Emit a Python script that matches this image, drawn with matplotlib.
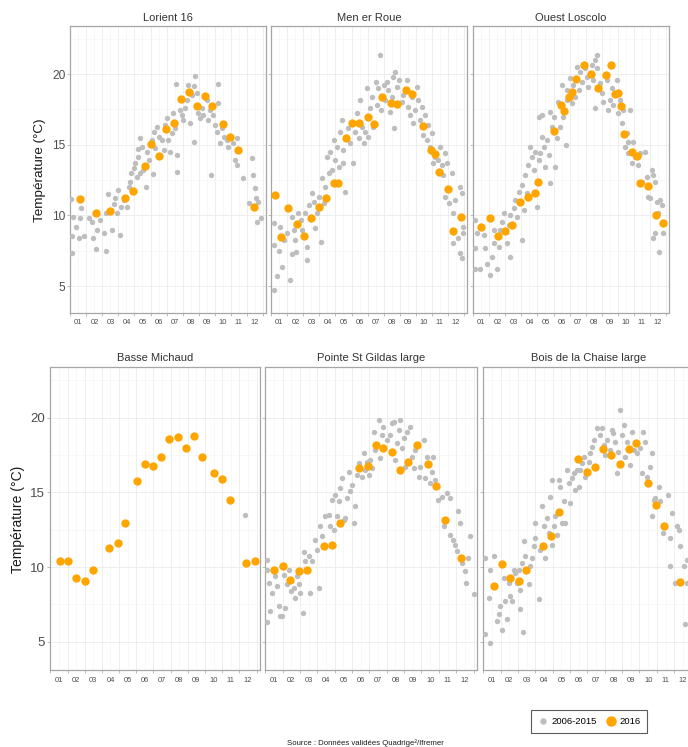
import numpy as np
import matplotlib.pyplot as plt
from matplotlib.lines import Line2D

plt.rcParams['font.family'] = ['Liberation Sans', 'DejaVu Sans']

# Etiquettes des mois
mois_labels = ['01', '02', '03', '04', '05', '06', '07', '08', '09', '10', '11', '12']

# --- Lorient 16 ---
lorient_hist_mois = [0.06, 0.17, 0.1, 0.1, 0.66, 0.62, 0.37, 0.52, 0.83, 1.14, 1.35, 1.41, 1.62, 1.66, 1.87,
                     2.07, 2.2, 2.32, 2.24, 2.59, 2.74, 3.07, 2.9, 3.15, 2.8, 3.0, 3.32, 3.53, 3.63, 3.78,
                     3.73, 3.94, 4.05, 4.15, 4.36, 4.25, 4.19, 4.46, 4.32, 4.71, 4.56, 4.88, 4.77, 5.08, 5.19,
                     5.29, 5.15, 5.39, 5.5, 5.71, 5.81, 5.91, 6.02, 6.12, 6.22, 6.33, 6.43, 6.54, 6.64, 6.68,
                     6.58, 6.85, 6.95, 7.05, 7.16, 7.26, 7.32, 7.47, 7.57, 7.72, 7.78, 7.68, 7.88, 7.99, 8.09,
                     8.2, 8.3, 8.51, 8.61, 8.71, 8.76, 8.92, 9.02, 9.13, 9.23, 9.23, 9.34, 9.44, 9.59, 9.75,
                     9.85, 10.17, 10.37, 10.27, 10.41, 10.79, 11.31, 11.41, 11.51, 11.58, 11.62, 11.72, 11.89, 11.16]
lorient_hist_temp = [11.16, 9.86, 8.56, 7.31, 10.5, 9.79, 9.2, 8.44, 8.54, 9.79, 9.55, 8.37, 7.66, 8.96, 9.67,
                     8.73, 7.5, 11.5, 10.14, 8.96, 10.8, 8.61, 10.14, 10.57, 11.2, 11.8, 11.08, 10.61, 12.03, 12.97,
                     12.38, 13.33, 13.68, 12.74, 12.97, 14.15, 14.69, 14.86, 15.45, 12.03, 13.21, 13.92, 14.5, 15.33, 15.92,
                     14.74, 12.92, 16.27, 15.57, 15.33, 14.62, 16.39, 16.86, 15.33, 14.5, 15.8, 17.22, 16.16, 14.27, 13.09,
                     19.29, 17.45, 17.1, 16.75, 17.57, 18.16, 19.22, 16.51, 18.51, 19.15, 19.88, 15.21, 18.63, 17.22, 16.86,
                     17.57, 17.1, 18.16, 16.75, 17.45, 12.85, 17.1, 16.39, 15.92, 19.27, 17.92, 15.09, 16.16, 15.57, 15.33,
                     14.86, 15.09, 15.45, 13.92, 13.56, 12.62, 14.03, 12.85, 11.91, 11.2, 9.55, 10.97, 9.79, 10.85]
lorient_2016_mois = [0.58, 1.6, 2.49, 3.42, 3.9, 4.63, 5.04, 5.54, 5.95, 6.47, 6.91, 7.43, 7.88, 8.38, 8.82,
                     9.5, 9.96, 10.44, 11.45]
lorient_2016_temp = [11.16, 10.19, 10.28, 11.25, 11.75, 13.49, 15.02, 14.22, 16.11, 16.56, 18.25, 18.7, 17.76,
                     18.47, 17.76, 16.46, 15.52, 14.6, 10.57]

# --- Men er Roue ---
menerroue_hist_mois = [0.19, 0.15, 0.19, 0.35, 0.46, 0.66, 0.77, 0.56, 1.14, 0.98, 1.29, 1.39, 1.29, 1.56, 1.49,
                       1.66, 1.83, 1.93, 2.22, 2.22, 2.12, 2.32, 2.63, 2.74, 2.53, 2.84, 3.09, 2.95, 3.15, 3.26,
                       3.36, 3.57, 3.46, 3.67, 3.78, 3.88, 3.98, 4.09, 4.19, 4.29, 4.4, 4.5, 4.61, 4.5, 4.75,
                       4.92, 5.12, 5.23, 5.33, 5.44, 5.54, 5.64, 5.75, 5.85, 5.95, 6.0, 6.16, 6.27, 6.37, 6.54,
                       6.58, 6.68, 6.78, 6.83, 7.0, 7.1, 7.2, 7.3, 7.41, 7.51, 7.61, 7.66, 7.68, 7.82, 7.93,
                       8.13, 8.2, 8.44, 8.55, 8.65, 8.76, 8.86, 8.96, 9.07, 9.17, 9.27, 9.38, 9.48, 9.59, 9.69,
                       9.79, 9.9, 10.0, 10.1, 10.21, 10.41, 10.52, 10.62, 10.83, 10.93, 10.73, 11.24, 10.83, 11.1,
                       11.35, 11.31, 11.45, 11.66, 11.76, 11.76, 11.87, 11.87, 11.97, 11.93]
menerroue_hist_temp = [9.48, 7.9, 4.72, 5.7, 7.5, 6.37, 8.25, 9.2, 5.42, 8.73, 7.3, 8.96, 9.9, 7.43, 8.25,
                       10.14, 9.67, 8.96, 7.78, 6.84, 10.14, 10.73, 10.97, 9.08, 11.56, 10.14, 8.14, 11.32, 12.62, 10.85,
                       12.03, 12.97, 14.15, 14.5, 13.2, 15.33, 13.92, 14.86, 13.44, 15.92, 16.75, 14.62, 11.67, 13.68, 16.16,
                       15.1, 13.68, 15.92, 17.22, 15.45, 18.16, 16.27, 15.1, 15.92, 18.99, 15.57, 17.57, 18.4, 16.27, 19.46,
                       17.81, 18.99, 21.34, 17.45, 19.22, 18.16, 19.46, 18.87, 17.33, 18.4, 19.81, 16.16, 20.17, 19.1, 19.58,
                       18.04, 18.51, 19.58, 17.69, 17.1, 18.4, 16.51, 17.45, 19.1, 18.16, 16.75, 17.69, 15.68, 17.1, 15.33,
                       16.39, 14.86, 15.8, 13.68, 14.15, 13.92, 14.86, 13.56, 14.39, 13.68, 12.85, 12.97, 11.32, 10.85,
                       10.14, 8.02, 11.08, 8.37, 12.03, 7.31, 6.96, 11.56, 8.73, 9.2]
menerroue_2016_mois = [0.21, 0.6, 1.04, 1.6, 2.01, 2.47, 2.97, 3.42, 3.92, 4.13, 4.63, 5.02, 5.48, 6.02, 6.43,
                       6.91, 7.45, 7.82, 8.38, 8.8, 9.48, 9.94, 10.21, 10.46, 11.0, 11.35, 11.83]
menerroue_2016_temp = [11.44, 8.49, 10.5, 9.39, 8.54, 9.83, 10.57, 11.2, 12.31, 12.31, 15.45, 16.56, 16.56, 16.98,
                       16.46, 18.4, 17.92, 17.88, 18.87, 18.56, 16.32, 14.62, 14.34, 13.09, 11.84, 8.92, 9.9]

# --- Ouest Loscolo ---
loscolo_hist_mois = [0.12, 0.12, 0.12, 0.39, 0.23, 0.64, 0.75, 0.85, 1.06, 1.16, 1.27, 1.27, 1.47, 1.58, 1.68,
                     1.78, 1.89, 2.1, 2.2, 2.3, 2.3, 2.51, 2.61, 2.72, 2.82, 3.02, 3.02, 3.13, 3.24, 3.34,
                     3.44, 3.55, 3.65, 3.76, 3.86, 3.96, 4.07, 4.17, 4.27, 4.38, 4.48, 4.58, 4.69, 4.79, 4.79,
                     4.07, 4.27, 4.9, 5.0, 5.1, 5.21, 5.31, 5.41, 5.52, 5.62, 5.79, 5.83, 5.87, 6.04, 6.14,
                     6.24, 6.35, 6.49, 6.56, 6.66, 6.76, 6.97, 7.07, 7.18, 7.28, 7.39, 7.49, 7.59, 7.7, 7.74,
                     7.9, 7.59, 8.01, 8.11, 8.32, 8.42, 8.53, 8.63, 8.73, 8.94, 9.05, 9.15, 9.25, 9.36, 9.46,
                     9.56, 9.67, 9.77, 9.67, 9.88, 9.98, 10.08, 10.29, 10.39, 10.5, 10.71, 10.81, 10.91, 11.02, 11.12,
                     11.22, 11.33, 11.43, 11.54, 11.64, 11.74, 11.22, 11.33, 11.6, 11.85]
loscolo_hist_temp = [9.67, 7.67, 6.18, 6.18, 8.73, 8.61, 7.67, 6.6, 5.78, 7.08, 8.02, 8.96, 6.18, 7.78, 8.96,
                     9.55, 10.14, 8.02, 9.32, 7.08, 10.02, 10.5, 11.08, 9.9, 11.67, 8.25, 12.15, 10.38, 12.85, 11.56,
                     13.56, 14.86, 14.15, 13.2, 14.5, 10.61, 13.92, 14.39, 15.57, 14.86, 13.44, 15.33, 14.27, 12.26, 17.33,
                     16.98, 17.1, 16.27, 16.98, 13.44, 15.45, 18.04, 16.27, 19.22, 16.98, 14.98, 18.16, 18.87, 19.69, 17.92,
                     19.22, 18.4, 20.52, 18.87, 20.17, 19.46, 20.4, 19.81, 19.1, 20.05, 20.64, 19.58, 20.99, 21.34, 20.4,
                     19.34, 17.57, 18.63, 18.04, 19.58, 17.45, 18.16, 18.99, 17.81, 19.58, 17.22, 18.16, 16.51, 17.45, 14.86,
                     15.8, 15.21, 17.45, 14.39, 13.68, 15.21, 14.15, 13.56, 14.39, 12.38, 14.5, 12.74, 11.32, 11.2, 13.2,
                     12.85, 12.38, 10.97, 10.14, 11.08, 10.73, 8.37, 8.73, 7.43, 8.73]
loscolo_2016_mois = [0.48, 1.06, 1.51, 1.95, 2.41, 2.93, 3.4, 3.86, 4.02, 5.0, 5.48, 5.68, 5.98, 6.14, 6.41,
                     6.87, 7.34, 7.8, 8.26, 8.57, 8.84, 9.0, 9.21, 9.42, 9.88, 10.19, 10.39, 10.91, 11.37, 11.85]
loscolo_2016_temp = [9.2, 9.79, 8.56, 8.89, 9.32, 10.92, 11.27, 11.56, 12.38, 15.97, 17.81, 17.38, 18.4, 18.75,
                     19.62, 20.64, 20.0, 19.03, 19.93, 20.64, 18.58, 18.68, 17.74, 15.75, 14.5, 14.2, 12.31, 12.08,
                     10.02, 9.48]

# --- Basse Michaud ---
michaud_hist_mois = [11.3]
michaud_hist_temp = [13.48]
michaud_2016_mois = [0.54, 1.03, 1.51, 2.0, 2.46, 3.39, 3.91, 4.36, 5.04, 5.48, 5.97, 6.43, 6.92, 7.4, 7.87,
                     8.35, 8.82, 9.5, 9.96, 10.43, 11.4, 11.88]
michaud_2016_temp = [10.39, 10.39, 9.27, 9.05, 9.78, 11.28, 11.59, 12.97, 15.77, 16.88, 16.75, 17.4, 18.55, 18.73,
                     17.97, 18.75, 17.37, 16.28, 15.88, 14.48, 10.3, 10.41]

# --- Pointe St Gildas large ---
gildas_hist_mois = [0.1, 0.1, 0.19, 0.1, 0.29, 0.38, 0.58, 0.67, 0.77, 0.86, 0.96, 1.06, 1.15, 1.25, 1.34,
                    1.48, 1.63, 1.73, 1.82, 1.92, 2.02, 2.17, 2.21, 2.3, 2.5, 2.59, 2.69, 2.88, 2.98, 3.07,
                    3.17, 3.26, 3.45, 3.65, 3.74, 3.84, 3.93, 4.03, 4.13, 4.22, 4.32, 4.41, 4.51, 4.61, 4.7,
                    4.8, 4.89, 4.99, 5.09, 5.18, 5.28, 5.37, 5.57, 5.66, 5.76, 5.85, 5.95, 6.05, 6.14, 6.24,
                    6.33, 6.53, 6.62, 6.72, 6.81, 7.0, 7.2, 7.29, 7.39, 7.49, 7.58, 7.68, 7.77, 7.87, 7.97,
                    8.06, 8.16, 8.35, 8.45, 8.54, 8.64, 8.83, 8.93, 9.12, 9.21, 9.31, 9.5, 9.6, 9.69, 9.79,
                    9.98, 10.17, 10.46, 10.65, 10.27, 10.65, 10.84, 10.94, 11.04, 11.13, 11.23, 11.32, 11.52, 11.57,
                    11.71, 11.8, 12.0]
gildas_hist_temp = [10.5, 9.83, 8.94, 6.33, 7.05, 8.23, 9.38, 8.72, 7.38, 6.71, 6.71, 9.49, 7.27, 8.83, 9.83,
                    8.38, 8.6, 7.94, 9.38, 8.83, 8.27, 6.94, 10.99, 10.38, 10.72, 8.23, 10.38, 11.83, 11.16, 8.6,
                    12.72, 12.05, 13.39, 13.5, 12.72, 14.5, 12.5, 14.84, 13.39, 14.39, 15.28, 15.95, 13.17, 13.28, 14.61,
                    16.39, 15.06, 15.5, 12.94, 14.06, 16.17, 16.95, 16.06, 17.62, 16.51, 17.06, 16.17, 17.17, 16.62, 19.07,
                    17.84, 19.84, 17.28, 18.84, 19.4, 18.51, 18.84, 19.62, 19.73, 17.17, 18.28, 19.18, 19.84, 17.95, 18.62,
                    16.73, 19.07, 19.4, 17.4, 16.62, 17.84, 16.06, 16.73, 18.51, 15.95, 17.4, 15.62, 16.39, 17.35, 15.84,
                    14.5, 14.72, 14.95, 14.61, 12.72, 12.17, 11.83, 11.5, 11.05, 13.72, 12.94, 10.27, 9.72, 8.94,
                    10.61, 12.05, 8.16]
gildas_2016_mois = [0.52, 1.0, 1.44, 1.96, 2.4, 3.36, 3.84, 4.28, 5.41, 5.89, 6.39, 6.81, 7.29, 7.74, 8.25,
                    8.73, 9.4, 9.83, 10.33, 11.29]
gildas_2016_temp = [9.83, 10.05, 9.12, 9.72, 9.83, 11.43, 11.5, 12.94, 16.62, 16.8, 18.17, 17.95, 17.69, 16.5,
                    17.06, 18.17, 16.91, 15.44, 13.12, 10.61]

# --- Bois de la Chaise large ---
chaise_hist_mois = [0.12, 0.12, 0.36, 0.31, 0.4, 0.6, 0.79, 0.88, 0.98, 1.07, 1.17, 1.27, 1.36, 1.46, 1.56,
                    1.65, 1.75, 1.84, 1.94, 2.03, 2.13, 2.13, 2.23, 2.28, 2.32, 2.42, 2.61, 2.71, 2.8, 2.9,
                    3.0, 3.0, 3.19, 3.28, 3.38, 3.48, 3.57, 3.67, 3.76, 3.86, 3.95, 4.05, 4.15, 4.24, 3.95,
                    4.34, 4.43, 4.53, 4.63, 4.72, 4.82, 4.92, 5.01, 5.11, 5.2, 5.3, 5.4, 5.49, 5.59, 5.68,
                    5.78, 5.87, 6.07, 6.16, 6.26, 6.35, 6.55, 6.74, 6.83, 6.93, 7.03, 7.12, 7.31, 7.41, 7.5,
                    7.6, 7.7, 7.79, 7.85, 7.98, 8.08, 8.18, 8.27, 8.46, 8.56, 8.66, 8.85, 9.04, 9.23, 9.14,
                    9.33, 9.42, 9.62, 9.71, 9.71, 9.81, 9.9, 10.1, 10.19, 10.38, 10.67, 10.77, 10.86, 10.77, 11.06,
                    11.15, 11.25, 11.34, 11.54, 11.63, 11.73, 11.73, 11.9, 11.95]
chaise_hist_temp = [10.61, 5.49, 4.89, 7.94, 9.83, 10.72, 6.38, 6.82, 7.38, 5.78, 9.27, 7.71, 6.49, 8.94, 8.05,
                    7.71, 9.83, 9.61, 8.94, 9.83, 8.49, 7.16, 10.27, 5.64, 11.72, 10.72, 8.83, 10.05, 10.61, 11.39,
                    11.94, 12.94, 7.83, 11.16, 14.06, 12.72, 10.61, 13.28, 12.28, 14.72, 11.5, 12.72, 13.39, 12.17, 15.84,
                    15.84, 15.39, 12.94, 14.39, 12.94, 16.5, 15.62, 14.28, 15.95, 16.28, 15.17, 16.5, 15.39, 16.5, 16.95,
                    17.4, 16.06, 17.06, 17.62, 18.06, 18.51, 19.29, 18.84, 19.29, 18.17, 17.51, 18.51, 17.84, 19.18, 18.95,
                    18.4, 16.28, 17.73, 20.51, 18.84, 19.51, 17.4, 18.4, 16.84, 19.07, 17.84, 17.62, 17.95, 19.07, 16.28,
                    18.4, 16.06, 16.73, 17.62, 13.39, 14.5, 14.61, 15.39, 14.39, 12.28, 14.83, 11.94, 13.61, 10.05, 8.94,
                    12.72, 12.5, 11.39, 10.05, 6.16, 10.5, 8.94, 10.6, 9.4]
chaise_2016_mois = [0.6, 1.07, 1.52, 2.03, 2.48, 3.44, 3.92, 4.34, 5.45, 5.97, 6.45, 6.89, 7.37, 7.85, 8.37,
                    8.81, 9.48, 9.94, 10.42, 11.34]
chaise_2016_temp = [8.76, 10.23, 9.27, 9.09, 9.83, 11.39, 12.05, 13.68, 17.22, 16.39, 16.73, 17.91, 17.51, 16.88,
                    17.91, 18.33, 15.62, 14.17, 12.77, 9.0]

W, H = 688, 747
GRIS = '#bebebe'
ORANGE = '#ffa500'


def tracer_panneau(fig, rect, titre, hm, ht, om, ot, avec_y, bas):
    """Dessine un panneau (station) a partir d'un rectangle en pixels."""
    x0, y0, x1, y1 = rect
    ax = fig.add_axes([x0 / W, 1 - y1 / H, (x1 - x0) / W, (y1 - y0) / H])
    ax.scatter(hm, ht, s=15, color=GRIS, linewidths=0, zorder=3)
    ax.scatter(om, ot, s=36, color=ORANGE, linewidths=0, zorder=4)

    ax.set_xlim(-0.02, 12.2)
    ax.set_ylim(3.1, 23.4)

    # Axe x : traits aux debuts de mois, etiquettes au milieu
    ax.set_xticks(np.arange(0, 13, 1))
    ax.set_xticklabels([])
    ax.set_xticks(np.arange(0.5, 12, 1), minor=True)
    ax.set_xticklabels(mois_labels, minor=True)
    ax.set_yticks([5, 10, 15, 20])
    ax.set_yticks([7.5, 12.5, 17.5, 22.5], minor=True)

    fs_y = 9.6 if bas else 8.6
    ax.tick_params(axis='x', which='major', length=2.2, width=0.6, color='#b3b3b3')
    ax.tick_params(axis='x', which='minor', length=0, labelsize=5.4, labelcolor='#4d4d4d',
                   pad=5 if bas else 4)
    ax.tick_params(axis='y', which='major', length=2.2, width=0.6, color='#b3b3b3',
                   labelsize=fs_y, labelcolor='#4d4d4d', pad=1.2)
    ax.tick_params(axis='y', which='minor', length=0)
    if not avec_y:
        ax.set_yticklabels([])

    ax.grid(True, which='major', color='#ebebeb', linewidth=0.6, zorder=0)
    ax.grid(True, which='minor', color='#f3f3f3', linewidth=0.4, zorder=0)
    ax.set_axisbelow(True)
    for sp in ax.spines.values():
        sp.set_color('#a6a6a6')
        sp.set_linewidth(0.9)

    ax.set_title(titre, fontsize=8, color='#333333', pad=4 if bas else 3.5)
    return ax


def tracer_graphique():
    fig = plt.figure(figsize=(W / 100, H / 100), dpi=100)

    panneaux = [
        ((70, 26, 266, 313), 'Lorient 16', lorient_hist_mois, lorient_hist_temp,
         lorient_2016_mois, lorient_2016_temp, True, False),
        ((271, 26, 467, 313), 'Men er Roue', menerroue_hist_mois, menerroue_hist_temp,
         menerroue_2016_mois, menerroue_2016_temp, False, False),
        ((473, 26, 669, 313), 'Ouest Loscolo', loscolo_hist_mois, loscolo_hist_temp,
         loscolo_2016_mois, loscolo_2016_temp, False, False),
        ((50, 367, 260, 670), 'Basse Michaud', michaud_hist_mois, michaud_hist_temp,
         michaud_2016_mois, michaud_2016_temp, True, True),
        ((265, 367, 477, 670), 'Pointe St Gildas large', gildas_hist_mois, gildas_hist_temp,
         gildas_2016_mois, gildas_2016_temp, False, True),
        ((483, 367, 695, 670), 'Bois de la Chaise large', chaise_hist_mois, chaise_hist_temp,
         chaise_2016_mois, chaise_2016_temp, False, True),
    ]
    for p in panneaux:
        tracer_panneau(fig, *p)

    # Titres des axes y
    fig.text(40 / W, 1 - 170 / H, 'Température (°C)', rotation=90, ha='center', va='center',
             fontsize=9.7, color='#1a1a1a')
    fig.text(18 / W, 1 - 519 / H, 'Température (°C)', rotation=90, ha='center', va='center',
             fontsize=10, color='#1a1a1a')

    # Legende
    poignees = [
        Line2D([], [], marker='o', linestyle='', color=GRIS, markersize=3.6, label='2006-2015'),
        Line2D([], [], marker='o', linestyle='', color=ORANGE, markersize=6.5, label='2016'),
    ]
    leg = fig.legend(handles=poignees, loc='center', bbox_to_anchor=(589 / W, 1 - 721.5 / H),
                     ncol=2, fontsize=6.8, frameon=True, fancybox=False, edgecolor='#333333',
                     handletextpad=0.3, columnspacing=0.9, borderpad=0.7, handlelength=1.2)
    leg.get_frame().set_linewidth(0.8)

    fig.text(365 / W, 1 - 743 / H, 'Source : Données validées Quadrige²/Ifremer',
             ha='center', va='center', fontsize=5.6, color='#1a1a1a')

    fig.savefig('out.png', dpi=100)


if __name__ == '__main__':
    tracer_graphique()
